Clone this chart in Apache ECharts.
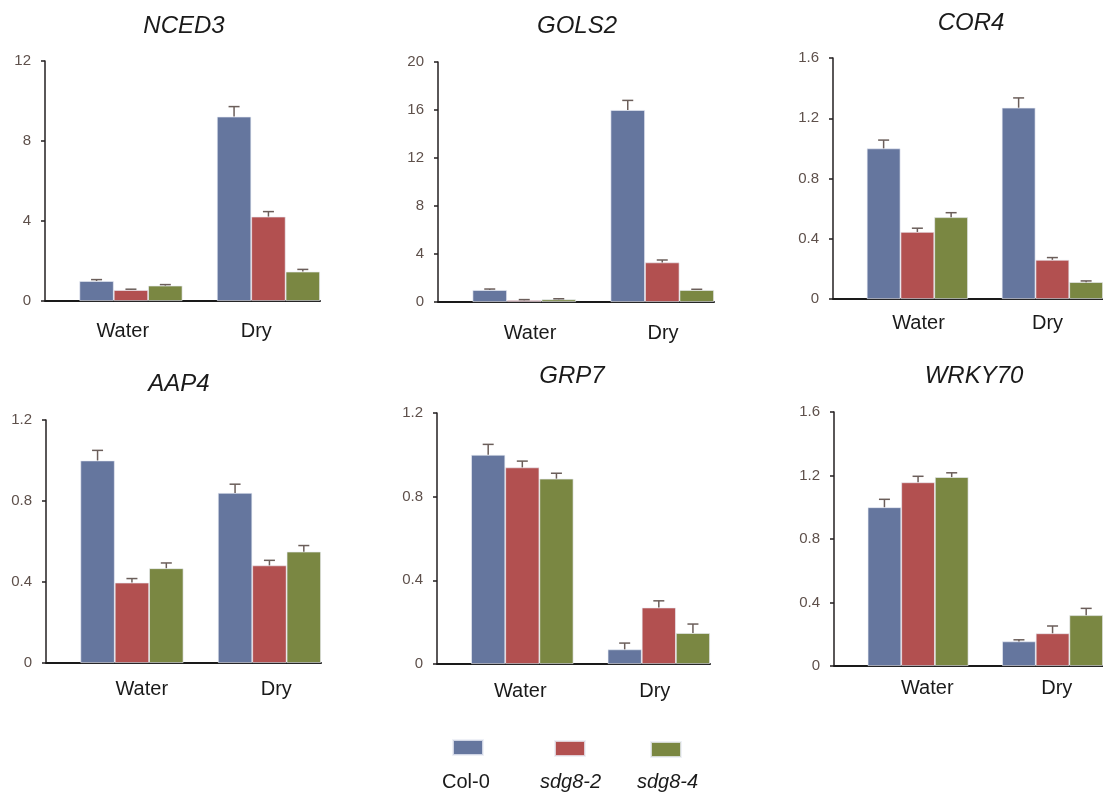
<!DOCTYPE html>
<html><head><meta charset="utf-8">
<script src="https://cdn.jsdelivr.net/npm/echarts@6/dist/echarts.min.js"></script>
<style>html,body{margin:0;padding:0;background:#fff}#c{width:1103px;height:792px}</style>
</head><body><div id="c"></div>
<script>
// ---- data ----
const categories = ['Water', 'Dry'];
const seriesNames = ['Col-0', 'sdg8-2', 'sdg8-4'];
const genes = ['NCED3', 'GOLS2', 'COR4', 'AAP4', 'GRP7', 'WRKY70'];
const yMax = [12, 20, 1.6, 1.2, 1.2, 1.6];
const yInterval = [4, 4, 0.4, 0.4, 0.4, 0.4];

// means: rows = Col-0, sdg8-2, sdg8-4 ; columns = Water, Dry
const NCED3_mean  = [[1.0, 9.22], [0.55, 4.22], [0.77, 1.47]];
const NCED3_err   = [[0.07, 0.5], [0.04, 0.25], [0.05, 0.11]];
const GOLS2_mean  = [[1.0, 16.0], [0.15, 3.3], [0.22, 1.0]];
const GOLS2_err   = [[0.08, 0.8], [0.05, 0.2], [0.05, 0.06]];
const COR4_mean   = [[1.0, 1.27], [0.445, 0.26], [0.543, 0.112]];
const COR4_err    = [[0.055, 0.065], [0.025, 0.015], [0.03, 0.008]];
const AAP4_mean   = [[1.0, 0.84], [0.397, 0.482], [0.468, 0.55]];
const AAP4_err    = [[0.05, 0.043], [0.02, 0.025], [0.026, 0.03]];
const GRP7_mean   = [[1.0, 0.07], [0.94, 0.27], [0.886, 0.148]];
const GRP7_err    = [[0.05, 0.03], [0.03, 0.032], [0.026, 0.043]];
const WRKY70_mean = [[1.0, 0.155], [1.157, 0.206], [1.19, 0.32]];
const WRKY70_err  = [[0.05, 0.01], [0.038, 0.046], [0.027, 0.043]];

const means = [NCED3_mean, GOLS2_mean, COR4_mean, AAP4_mean, GRP7_mean, WRKY70_mean];
const errs  = [NCED3_err, GOLS2_err, COR4_err, AAP4_err, GRP7_err, WRKY70_err];

// ---- layout / style ----
const colors = ['#65769e', '#b25050', '#7a8742'];
const errColor = '#6b5e5a';
const FONT = '"Liberation Sans", Arial, sans-serif';
const grids = [
  {left: 45,  top: 61,  width: 275, height: 240},
  {left: 438, top: 62,  width: 276, height: 240},
  {left: 833, top: 58,  width: 276, height: 241},
  {left: 46,  top: 420, width: 275, height: 243},
  {left: 437, top: 413, width: 273, height: 251},
  {left: 834, top: 412, width: 276, height: 254}
];
const titlePos = [[179, 9], [572, 9], [966, 6], [174, 367], [567, 359], [969, 359]];
const xLabelMargin = [20, 21, 14, 16, 17, 12];
const xLabelShift = [[9, 5], [23, 18], [18, 12], [27, 24], [15, 13], [26, 21]];

const option = {
  animation: false,
  backgroundColor: '#fff',
  title: genes.map((g, i) => ({
    text: g, left: titlePos[i][0], top: titlePos[i][1], textAlign: 'center',
    textStyle: {fontFamily: FONT, fontStyle: 'italic', fontWeight: 'normal', fontSize: 24, color: '#1a1a1a'}
  })),
  grid: grids,
  xAxis: grids.map((g, i) => ({
    type: 'category', gridIndex: i, data: categories,
    axisLine: {lineStyle: {color: '#1a1a1a', width: 2}},
    axisTick: {show: false},
    axisLabel: {
      margin: xLabelMargin[i], fontFamily: FONT, fontSize: 20, color: '#1a1a1a',
      formatter: (v, idx) => '{c' + idx + '|' + v + '}',
      rich: {
        c0: {padding: [0, 0, 0, 2 * xLabelShift[i][0]], fontFamily: FONT, fontSize: 20, color: '#1a1a1a'},
        c1: {padding: [0, 0, 0, 2 * xLabelShift[i][1]], fontFamily: FONT, fontSize: 20, color: '#1a1a1a'}
      }
    },
    splitLine: {show: false}
  })),
  yAxis: grids.map((g, i) => ({
    type: 'value', gridIndex: i, min: 0, max: yMax[i], interval: yInterval[i],
    axisLine: {show: true, lineStyle: {color: '#231f20', width: 1.5}},
    axisTick: {show: true, length: 4, lineStyle: {color: '#231f20', width: 1.5}},
    axisLabel: {margin: 14, fontFamily: FONT, fontSize: 15, color: '#5e504b'},
    splitLine: {show: false}
  })),
  legend: seriesNames.map((n, k) => ({
    data: [n], left: [452, 554, 650][k], top: [739, 740, 741][k], padding: 0,
    itemWidth: 30, itemHeight: 15, icon: 'rect', selectedMode: false,
    formatter: () => '', textStyle: {fontSize: 1}
  })),
  graphic: [
    {type: 'text', left: 466 - 24, top: 772, style: {text: 'Col-0', font: '20px ' + FONT, fill: '#1a1a1a'}},
    {type: 'text', left: 570 - 30, top: 772, style: {text: 'sdg8-2', font: 'italic 20px ' + FONT, fill: '#1a1a1a'}},
    {type: 'text', left: 667 - 30, top: 772, style: {text: 'sdg8-4', font: 'italic 20px ' + FONT, fill: '#1a1a1a'}}
  ],
  series: []
};

genes.forEach((g, i) => {
  // spacer slot occupying the left quarter of each category band
  option.series.push({
    type: 'bar', xAxisIndex: i, yAxisIndex: i, data: ['-', '-'], silent: true,
    barGap: '0%', barCategoryGap: '0%'
  });
  seriesNames.forEach((n, s) => {
    option.series.push({
      name: n, type: 'bar', xAxisIndex: i, yAxisIndex: i,
      data: means[i][s], barGap: '0%', barCategoryGap: '0%',
      itemStyle: {color: colors[s], borderColor: 'rgba(235,238,245,0.8)', borderWidth: 0.8}
    });
  });
  const errData = [];
  seriesNames.forEach((n, s) => {
    categories.forEach((c, ci) => errData.push([ci, means[i][s][ci], errs[i][s][ci], s]));
  });
  option.series.push({
    type: 'custom', xAxisIndex: i, yAxisIndex: i, z: 5, silent: true,
    encode: {x: 0, y: 1}, data: errData,
    renderItem: (params, api) => {
      const ci = api.value(0), v = api.value(1), e = api.value(2), s = api.value(3);
      const base = api.coord([ci, v]);
      const top = api.coord([ci, v + e]);
      const w = api.size([1, 0])[0];
      const x = base[0] + (s - 0.5) * w / 4;
      const st = {stroke: errColor, lineWidth: 1.5};
      return {type: 'group', children: [
        {type: 'line', shape: {x1: x, y1: base[1], x2: x, y2: top[1]}, style: st},
        {type: 'line', shape: {x1: x - 5.5, y1: top[1], x2: x + 5.5, y2: top[1]}, style: st}
      ]};
    }
  });
});

const chart = echarts.init(document.getElementById('c'), null, {renderer: 'canvas'});
chart.setOption(option);
</script>
</body></html>
